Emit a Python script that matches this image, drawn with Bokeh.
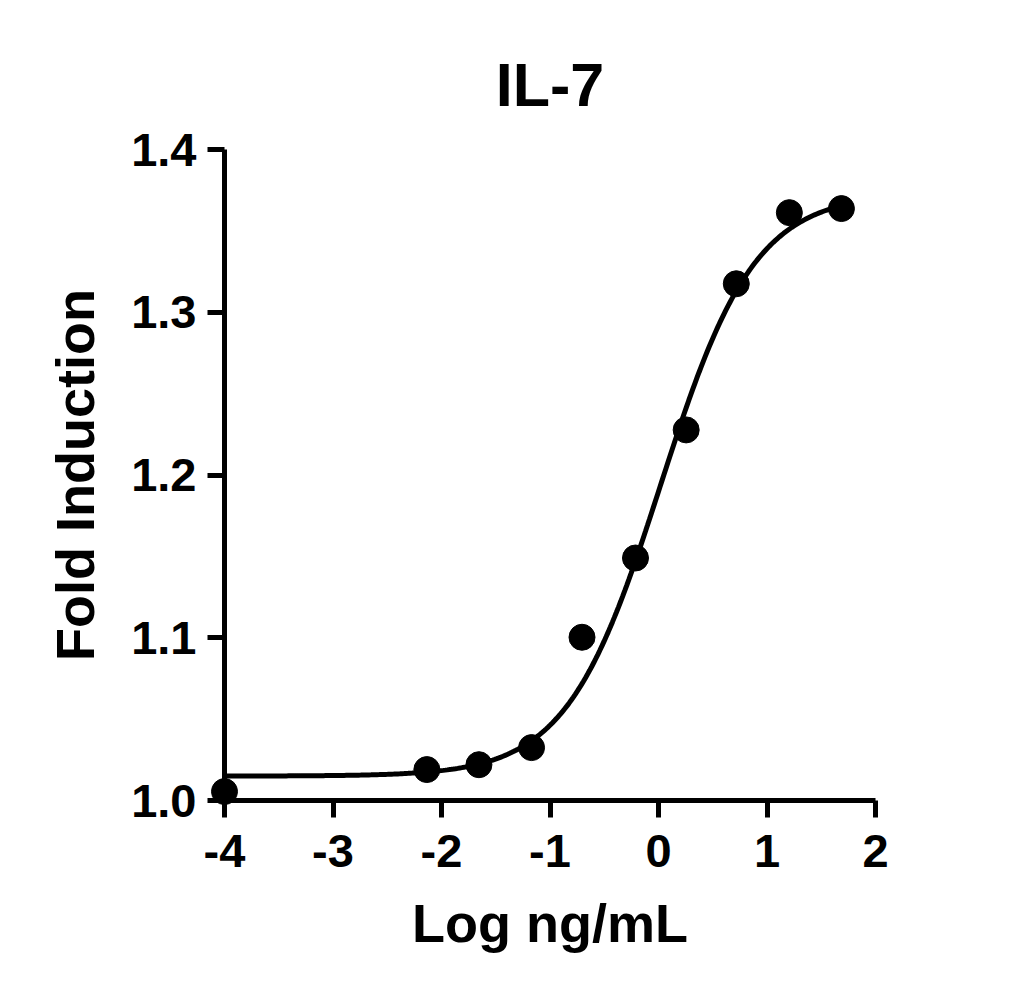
from bokeh.plotting import figure
from bokeh.models import FixedTicker, Range1d
from bokeh.embed import file_html
from bokeh.resources import INLINE
import numpy as np

# ---- data ----
log_conc = [-4.0, -2.135, -1.655, -1.17, -0.705, -0.212, 0.255, 0.717, 1.206, 1.686]
fold_induction = [1.0055, 1.019, 1.022, 1.0325, 1.1003, 1.149, 1.2277, 1.3175, 1.3612, 1.3637]

# 4PL fit parameters (as drawn in the reference)
fit_bottom = 1.015
fit_top = 1.373
fit_log_ec50 = 0.02
fit_hill = 1.0

x_ticks = [-4, -3, -2, -1, 0, 1, 2]
x_tick_labels = ["-4", "-3", "-2", "-1", "0", "1", "2"]
y_ticks = [1.0, 1.1, 1.2, 1.3, 1.4]
y_tick_labels = ["1.0", "1.1", "1.2", "1.3", "1.4"]

title_text = "IL-7"
x_label = "Log ng/mL"
y_label = "Fold Induction"

FONT = "Liberation Sans"

W, H = 1000, 985
p = figure(width=W, height=H, output_backend="svg", toolbar_location=None,
           x_range=Range1d(-4, 2), y_range=Range1d(1.0, 1.4),
           min_border_left=224, min_border_right=W - 875,
           min_border_top=149, min_border_bottom=H - 800)

p.title.text = title_text
p.title.align = "center"
p.title.text_font = FONT
p.title.text_font_style = "bold"
p.title.text_font_size = "61px"
p.title.text_color = "black"
p.title.standoff = 61

p.grid.visible = False
p.outline_line_color = None
p.background_fill_color = "white"
p.border_fill_color = "white"

for ax in (p.xaxis[0], p.yaxis[0]):
    ax.axis_line_width = 5
    ax.axis_line_color = "black"
    ax.major_tick_line_width = 5
    ax.major_tick_line_color = "black"
    ax.major_tick_out = 17
    ax.major_tick_in = 0
    ax.minor_tick_line_color = None
    ax.major_label_text_font = FONT
    ax.major_label_text_font_style = "bold"
    ax.major_label_text_font_size = "47px"
    ax.major_label_text_color = "black"
    ax.axis_label_text_font = FONT
    ax.axis_label_text_font_style = "bold"
    ax.axis_label_text_font_size = "54px"
    ax.axis_label_text_color = "black"

p.xaxis.ticker = FixedTicker(ticks=x_ticks)
p.xaxis.major_label_overrides = dict(zip(x_ticks, x_tick_labels))
p.yaxis.ticker = FixedTicker(ticks=y_ticks)
p.yaxis.major_label_overrides = dict(zip(y_ticks, y_tick_labels))
p.xaxis.axis_label = x_label
p.yaxis.axis_label = y_label
p.xaxis.major_label_standoff = 17
p.yaxis.major_label_standoff = 11
p.xaxis.axis_label_standoff = 23
p.yaxis.axis_label_standoff = 23

# fitted curve from the 4PL parameters
xs = np.linspace(log_conc[0], log_conc[-1], 300)
ys = fit_bottom + (fit_top - fit_bottom) / (1 + 10 ** ((fit_log_ec50 - xs) * fit_hill))
curve = p.line(xs, ys, line_width=5, line_color="black")
curve.level = "overlay"

pts = p.scatter(log_conc, fold_induction, size=26, marker="circle",
                fill_color="black", line_color="black")
pts.level = "overlay"

open("out.html", "w").write(file_html(p, INLINE))
